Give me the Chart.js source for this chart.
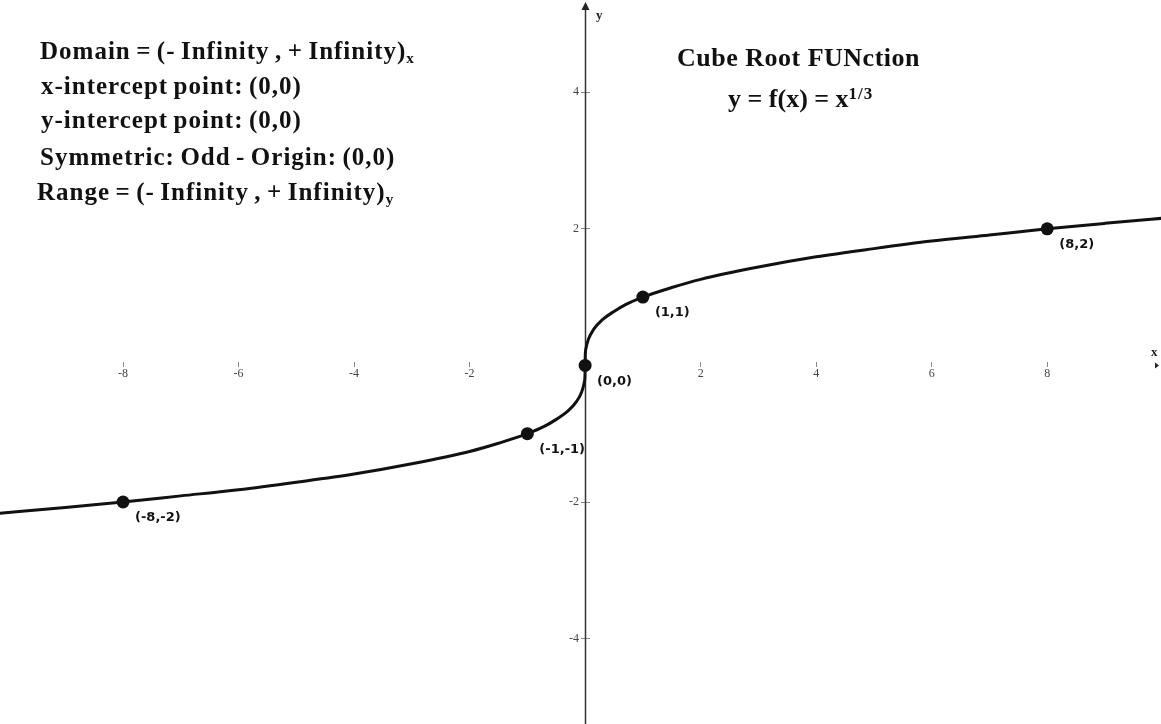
<!DOCTYPE html>
<html>
<head>
<meta charset="utf-8">
<script src="https://cdn.jsdelivr.net/npm/chart.js@4"></script>
<style>
  body { margin: 0; background: #fff; }
  #wrap { position: relative; width: 1161px; height: 724px; }
  .note {
    position: absolute;
    font-family: "Liberation Serif", "Times New Roman", serif;
    font-weight: bold;
    color: #111;
    white-space: nowrap;
    line-height: 1;
  }
  .info { font-size: 25px; letter-spacing: 1px; word-spacing: -1.8px; }
  .info sub { font-size: 15px; vertical-align: -4px; letter-spacing: 0; }
  .title { font-size: 26px; letter-spacing: 0.5px; }
  .formula { font-size: 26px; }
  .formula sup { font-size: 17px; vertical-align: 8px; letter-spacing: 1px; }
</style>
</head>
<body>
<div id="wrap">
  <canvas id="cube-chart"></canvas>
  <div class="note info" style="left:40px; top:38px;">Domain = (- Infinity , + Infinity)<sub>x</sub></div>
  <div class="note info" style="left:41px; top:73px;">x-intercept point: (0,0)</div>
  <div class="note info" style="left:41px; top:107px;">y-intercept point: (0,0)</div>
  <div class="note info" style="left:40px; top:144px;">Symmetric: Odd - Origin: (0,0)</div>
  <div class="note info" style="left:37px; top:179px;">Range = (- Infinity , + Infinity)<sub>y</sub></div>
  <div class="note title" style="left:677px; top:45px;">Cube Root FUNction</div>
  <div class="note formula" style="left:728px; top:85px;">y = f(x) = x<sup>1/3</sup></div>
</div>
<script>
var ctx = document.getElementById("cube-chart").getContext("2d");

// Curve y = x^(1/3), sampled by hand (denser near the origin where it turns vertical)
var curveX = [-10.2, -9, -8, -7, -6, -5, -4, -3, -2, -1.5, -1, -0.7, -0.5, -0.3, -0.15, -0.06, -0.015, -0.002, 0,
              0.002, 0.015, 0.06, 0.15, 0.3, 0.5, 0.7, 1, 1.5, 2, 3, 4, 5, 6, 7, 8, 9, 10.2];
var curveY = [-2.17, -2.08, -2.0, -1.91, -1.82, -1.71, -1.59, -1.44, -1.26, -1.14, -1.0, -0.89, -0.79, -0.67, -0.53, -0.39, -0.25, -0.13, 0,
              0.13, 0.25, 0.39, 0.53, 0.67, 0.79, 0.89, 1.0, 1.14, 1.26, 1.44, 1.59, 1.71, 1.82, 1.91, 2.0, 2.08, 2.17];

// Marked points and their labels
var markX = [-8, -1, 0, 1, 8];
var markY = [-2, -1, 0, 1, 2];
var markLabels = ["(-8,-2)", "(-1,-1)", "(0,0)", "(1,1)", "(8,2)"];

// Tick labels
var xTicks = [-8, -6, -4, -2, 2, 4, 6, 8];
var yTicks = [-4, -2, 2, 4];

function toPoints(xs, ys) {
  return xs.map(function (x, i) { return { x: x, y: ys[i] }; });
}

// y axis line with arrow, y tick labels, axis letters, point labels
var axisDecor = {
  id: "axisDecor",
  beforeDatasetsDraw: function (chart) {
    var c = chart.ctx, xs = chart.scales.x;
    var x0 = Math.round(xs.getPixelForValue(0)) + 0.5;
    c.save();
    c.strokeStyle = "#333";
    c.lineWidth = 1.5;
    c.beginPath();
    c.moveTo(x0, chart.chartArea.bottom);
    c.lineTo(x0, 8);
    c.stroke();
    c.fillStyle = "#222";
    c.beginPath();
    c.moveTo(x0, 2);
    c.lineTo(x0 - 4, 10);
    c.lineTo(x0 + 4, 10);
    c.closePath();
    c.fill();
    c.restore();
  },
  afterDraw: function (chart) {
    var c = chart.ctx, xs = chart.scales.x, ys = chart.scales.y;
    var x0 = xs.getPixelForValue(0), y0 = ys.getPixelForValue(0);
    c.save();

    // y tick labels, left of the axis
    c.fillStyle = "#444";
    c.font = "12px 'Liberation Serif', serif";
    c.textAlign = "right";
    c.textBaseline = "middle";
    yTicks.forEach(function (v) {
      c.fillText(String(v), x0 - 6, ys.getPixelForValue(v));
    });

    c.fillStyle = "#222";
    c.font = "bold 13px 'Liberation Serif', serif";
    c.textAlign = "left";
    c.textBaseline = "alphabetic";
    c.fillText("y", x0 + 11, 19);
    c.fillText("x", 1151, y0 - 9);
    // small arrow head at the right end of the x axis
    c.beginPath();
    c.moveTo(1159, y0);
    c.lineTo(1155, y0 - 3);
    c.lineTo(1155, y0 + 3);
    c.closePath();
    c.fill();

    c.fillStyle = "#111";
    c.font = "bold 13px 'DejaVu Sans', sans-serif";
    c.textBaseline = "middle";
    markLabels.forEach(function (txt, i) {
      var px = xs.getPixelForValue(markX[i]);
      var py = ys.getPixelForValue(markY[i]);
      c.fillText(txt, px + 12, py + 16);
    });
    c.restore();
  }
};

var tickFont = { family: "'Liberation Serif', serif", size: 12 };

var myChart = new Chart(ctx, {
  type: "scatter",
  data: {
    datasets: [
      {
        label: "y = x^(1/3)",
        data: toPoints(curveX, curveY),
        showLine: true,
        borderColor: "#111",
        borderWidth: 3,
        pointRadius: 0,
        cubicInterpolationMode: "monotone"
      },
      {
        label: "points",
        data: toPoints(markX, markY),
        showLine: false,
        pointRadius: 6.5,
        backgroundColor: "#111",
        borderColor: "#111",
        borderWidth: 0
      }
    ]
  },
  options: {
    responsive: true,
    maintainAspectRatio: false,
    animation: false,
    layout: { padding: 0, autoPadding: false },
    plugins: {
      legend: { display: false },
      tooltip: { enabled: false }
    },
    scales: {
      x: {
        type: "linear",
        min: -10.13,
        max: 9.97,
        position: { y: 0.05 },
        afterBuildTicks: function (scale) {
          scale.ticks = xTicks.map(function (v) { return { value: v }; });
        },
        border: { display: false },
        grid: { drawOnChartArea: false, drawTicks: true, tickLength: 5, color: "#888" },
        ticks: { color: "#444", font: tickFont, padding: 0, maxRotation: 0, autoSkip: false }
      },
      y: {
        type: "linear",
        min: -5.25,
        max: 5.35,
        position: { x: 0.078 },
        afterBuildTicks: function (scale) {
          scale.ticks = yTicks.map(function (v) { return { value: v }; });
        },
        border: { display: false },
        grid: { drawOnChartArea: false, drawTicks: true, tickLength: 9, color: "#888" },
        ticks: { display: false }
      }
    }
  },
  plugins: [axisDecor]
});
</script>
</body>
</html>
